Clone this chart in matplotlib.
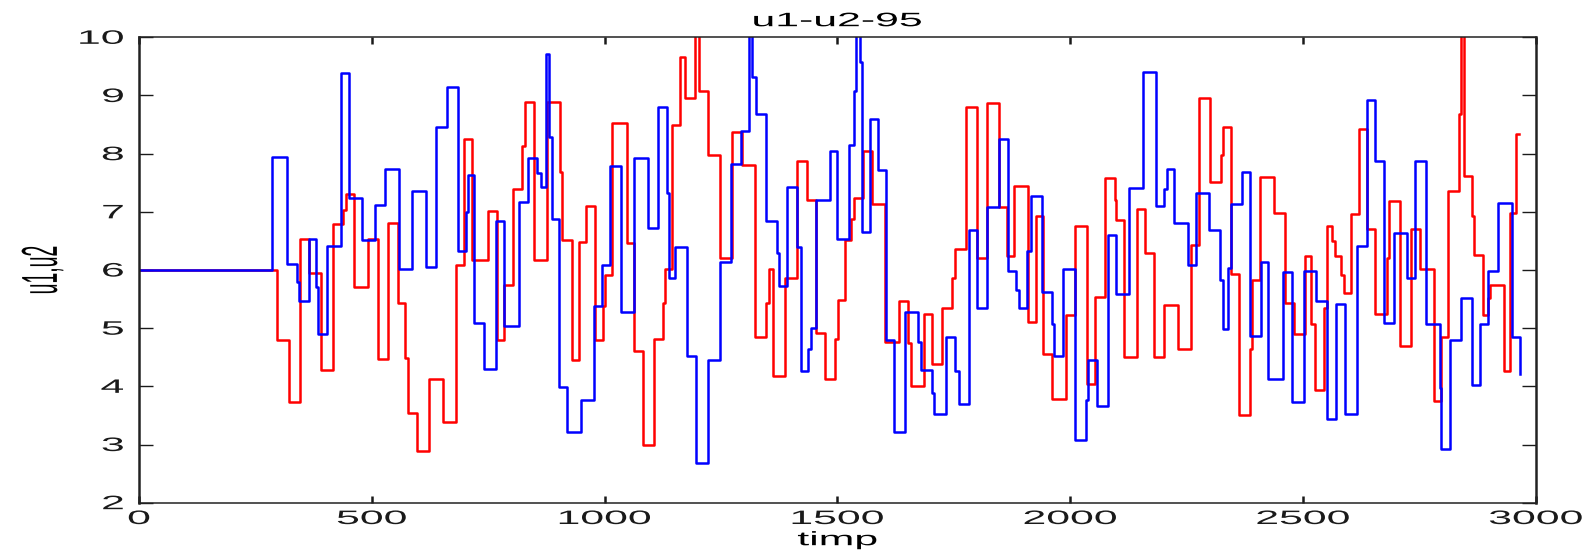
import matplotlib
matplotlib.use("Agg")
import matplotlib.pyplot as plt
from matplotlib import patheffects
from matplotlib.transforms import Affine2D

# u1 (rosu) - momentele de schimbare si valorile treptelor
t_u1 = [0, 296, 323, 346, 364, 391, 416, 437, 444, 461, 491, 514, 534, 557, 572, 577,
        598, 623, 652, 680, 698, 716, 750, 769, 784, 804, 822, 829, 848, 877, 905, 909,
        929, 944, 960, 979, 996, 1000, 1016, 1048, 1064, 1082, 1105, 1125, 1130, 1145,
        1162, 1173, 1195, 1202, 1222, 1248, 1273, 1295, 1323, 1346, 1352, 1362, 1387,
        1412, 1434, 1454, 1473, 1495, 1502, 1516, 1530, 1536, 1555, 1575, 1602, 1632,
        1652, 1658, 1686, 1702, 1725, 1746, 1752, 1775, 1800, 1822, 1846, 1863, 1879,
        1909, 1927, 1941, 1960, 1990, 2010, 2035, 2052, 2075, 2095, 2098, 2115, 2143,
        2161, 2179, 2202, 2231, 2259, 2277, 2300, 2323, 2327, 2345, 2363, 2386, 2391,
        2408, 2438, 2461, 2481, 2503, 2518, 2525, 2545, 2551, 2563, 2568, 2582, 2588,
        2602, 2620, 2638, 2655, 2680, 2684, 2708, 2731, 2752, 2781, 2796, 2811, 2834,
        2839, 2846, 2863, 2868, 2886, 2896, 2901, 2932, 2944, 2958, 2963]
u1 = [6.00, 4.80, 3.73, 6.54, 5.94, 4.28, 6.79, 7.03, 7.31, 5.70, 6.54, 4.47, 6.81, 5.43,
      4.48, 3.55, 2.89, 4.12, 3.38, 6.09, 8.26, 6.17, 7.01, 4.80, 5.75, 7.39, 8.13, 8.89,
      6.18, 8.88, 7.69, 6.52, 4.45, 6.48, 7.10, 4.80, 5.38, 5.91, 8.53, 6.46, 4.60, 2.99,
      4.81, 5.43, 6.02, 8.50, 9.67, 8.95, 10.4, 9.08, 7.97, 6.21, 8.38, 7.80, 4.84, 5.43,
      6.02, 4.18, 5.87, 7.87, 7.21, 4.92, 4.12, 4.81, 5.48, 6.52, 6.87, 7.23, 8.05, 7.14,
      4.77, 5.46, 4.74, 4.01, 5.24, 4.38, 5.35, 5.86, 6.36, 8.81, 6.21, 8.87, 7.08, 6.24,
      7.44, 5.11, 6.92, 4.56, 3.78, 5.23, 6.76, 4.04, 5.54, 7.59, 7.21, 6.86, 4.51, 7.05,
      6.30, 4.51, 5.40, 4.64, 6.43, 8.95, 7.51, 7.98, 8.46, 5.93, 3.50, 4.65, 5.82, 7.60,
      6.98, 5.43, 4.90, 6.24, 5.08, 3.93, 5.34, 6.76, 6.50, 6.24, 5.91, 5.60, 6.96, 8.42,
      6.70, 5.24, 6.21, 7.19, 4.69, 6.70, 6.01, 3.75, 4.84, 7.35, 8.68, 10.4, 7.62, 6.93,
      6.26, 5.23, 5.51, 5.75, 4.27, 6.98, 8.34, 8.34]

# u2 (albastru)
t_u2 = [0, 286, 317, 340, 344, 364, 379, 385, 404, 434, 450, 479, 506, 528, 559, 587,
        616, 637, 661, 686, 703, 707, 719, 741, 766, 784, 816, 835, 855, 864, 873, 880,
        887, 902, 919, 950, 978, 994, 1012, 1036, 1064, 1093, 1115, 1134, 1139, 1152,
        1177, 1196, 1222, 1248, 1272, 1293, 1310, 1317, 1325, 1346, 1371, 1375, 1391,
        1412, 1421, 1437, 1443, 1454, 1485, 1500, 1525, 1536, 1539, 1548, 1552, 1570,
        1587, 1604, 1622, 1645, 1672, 1679, 1702, 1708, 1732, 1753, 1760, 1783, 1800,
        1822, 1846, 1866, 1884, 1889, 1908, 1915, 1939, 1960, 1966, 1985, 2010, 2034,
        2039, 2058, 2080, 2098, 2127, 2156, 2184, 2201, 2207, 2223, 2253, 2270, 2298,
        2322, 2327, 2339, 2345, 2368, 2386, 2409, 2425, 2456, 2477, 2501, 2527, 2551,
        2570, 2591, 2616, 2638, 2655, 2674, 2695, 2724, 2741, 2763, 2794, 2796, 2816,
        2839, 2863, 2879, 2896, 2918, 2949, 2966]
u2 = [6.00, 7.95, 6.10, 5.79, 5.46, 6.53, 5.71, 4.90, 6.41, 9.39, 7.23, 6.51, 7.12, 7.74,
      6.01, 7.35, 6.05, 8.46, 9.14, 6.32, 6.99, 7.64, 5.09, 4.29, 6.84, 5.04, 7.17, 7.93,
      7.66, 7.43, 9.71, 8.29, 6.88, 3.99, 3.21, 3.77, 5.38, 6.09, 7.79, 5.27, 7.93, 6.73,
      8.81, 7.32, 5.86, 6.39, 4.53, 2.68, 4.45, 6.14, 7.83, 8.39, 10.4, 9.31, 8.68, 6.84,
      6.30, 5.73, 7.43, 6.40, 4.27, 4.64, 5.00, 7.21, 8.05, 6.53, 8.15, 9.08, 10.4, 9.58,
      6.66, 8.59, 7.72, 4.80, 3.22, 5.28, 4.77, 4.28, 3.89, 3.52, 4.84, 4.27, 3.69, 6.69,
      5.34, 7.08, 8.26, 5.99, 5.66, 5.34, 6.32, 7.27, 5.62, 5.08, 4.53, 6.02, 3.08, 3.77,
      4.45, 3.67, 6.60, 5.58, 7.41, 9.41, 7.10, 7.40, 7.74, 6.81, 6.09, 7.33, 6.68, 5.83,
      4.98, 6.04, 7.13, 7.69, 4.87, 6.14, 4.12, 5.96, 3.73, 5.99, 5.47, 3.44, 5.42, 3.52,
      6.41, 8.92, 7.87, 5.09, 6.63, 5.87, 7.87, 5.07, 3.98, 2.92, 4.80, 5.52, 4.02, 5.07,
      5.99, 7.16, 4.84, 4.21]

x_ticks = [0, 500, 1000, 1500, 2000, 2500, 3000]
y_ticks = [2, 3, 4, 5, 6, 7, 8, 9, 10]


class StretchX(patheffects.AbstractPathEffect):
    # imaginea originala e latita pe orizontala, la fel si textul
    def __init__(self, sx=2.2, anchor="center"):
        super().__init__()
        self.sx = sx
        self.anchor = anchor

    def draw_path(self, renderer, gc, tpath, affine, rgbFace=None):
        ext = tpath.get_extents(affine)
        x0 = ext.x1 if self.anchor == "right" else (ext.x0 + ext.x1) / 2
        aff = affine + Affine2D().translate(-x0, 0).scale(self.sx, 1).translate(x0, 0)
        renderer.draw_path(gc, tpath, aff, rgbFace)


plt.rcParams['font.family'] = ['Liberation Sans', 'DejaVu Sans']

fig = plt.figure(figsize=(15.89, 5.56), dpi=100)
ax = fig.add_axes([0.0875, 0.0959, 0.8791, 0.837])

ax.step(t_u1, u1, where='post', color='#ff0000', linewidth=1.8)
ax.step(t_u2, u2, where='post', color='#0000ff', linewidth=1.8)

ax.set_xlim(0, 3000)
ax.set_ylim(2, 10)
ax.set_xticks(x_ticks)
ax.set_yticks(y_ticks)

ax.tick_params(axis='both', direction='in', top=True, right=True, labelsize=14,
               colors='#1a1a1a')
ax.tick_params(axis='y', length=10, width=1.0, pad=11)
ax.tick_params(axis='x', length=5, width=1.8, pad=6)
for side in ['left', 'right']:
    ax.spines[side].set_linewidth(1.8)
for side in ['top', 'bottom']:
    ax.spines[side].set_linewidth(1.1)
for sp in ax.spines.values():
    sp.set_color('#222222')

ax.set_title('u1-u2-95', fontsize=14, pad=8,
             path_effects=[StretchX(2.2)])
ax.set_xlabel('timp', fontsize=14, labelpad=3,
              path_effects=[StretchX(2.2)])
ax.set_ylabel('u1,u2', fontsize=14, labelpad=36,
              path_effects=[StretchX(2.6)])

for lbl in ax.get_xticklabels():
    lbl.set_path_effects([StretchX(2.2)])
for lbl in ax.get_yticklabels():
    lbl.set_path_effects([StretchX(2.2, anchor="right")])

fig.savefig('out.png', dpi=100)
